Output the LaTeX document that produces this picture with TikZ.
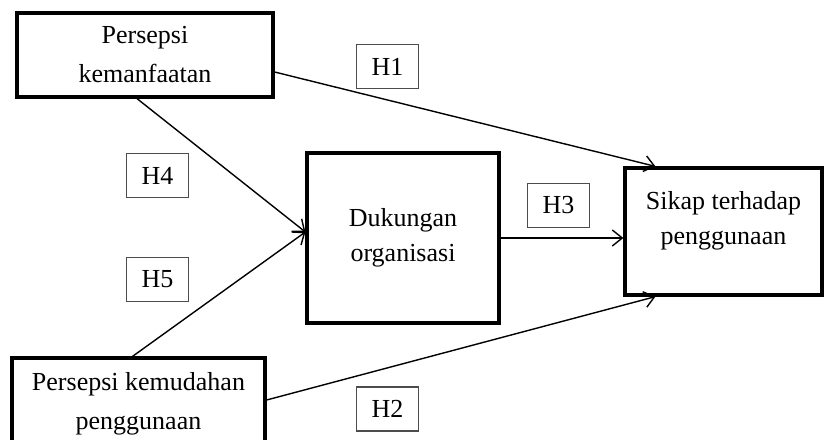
\documentclass[tikz,border=0pt]{standalone}
\usepackage{fontspec}
\setmainfont{Liberation Serif}
\usetikzlibrary{arrows.meta}

\begin{document}
\begin{tikzpicture}[x=0.5pt,y=-0.5pt,
    every node/.style={font=\fontsize{13}{19.5}\selectfont},
    varbox/.style={draw=black,line width=1.6pt,align=center,inner sep=0pt},
    hipbox/.style={draw=black!70,line width=0.8pt,minimum width=31pt,minimum height=22pt,inner sep=0pt},
    link/.style={line width=0.7pt,-{Straight Barb[length=5pt,width=8pt]}}]
    \useasboundingbox (0,0) rectangle (829,439);
    % variabel
    \node[varbox,minimum width=128pt,minimum height=42pt] (kemanfaatan) at (145,55) {Persepsi\\kemanfaatan};
    \node[varbox,minimum width=126.5pt,minimum height=46pt] (kemudahan) at (138.5,404) {Persepsi kemudahan\\penggunaan};
    \node[varbox,minimum width=96pt,minimum height=85pt] (dukungan) at (403,238) {Dukungan\\[-2pt]organisasi};
    \node[varbox,minimum width=98.5pt,minimum height=63.5pt] (sikap) at (723.5,231.5) {Sikap terhadap\\[-2pt]penggunaan\\[-12pt]\strut};
    % hipotesis
    \node[hipbox] (h1) at (387.5,66.5) {H1};
    \node[hipbox] (h2) at (387.5,409) {H2};
    \node[hipbox] (h3) at (558.5,205.5) {H3};
    \node[hipbox] (h4) at (157.5,175.5) {H4};
    \node[hipbox] (h5) at (157.5,279.5) {H5};
    % panah
    \draw[link] ([yshift=-8.5pt]kemanfaatan.east) -- ([xshift=-34pt]sikap.north);
    \draw[link] ([xshift=-4pt]kemanfaatan.south) -- ([yshift=3pt]dukungan.west);
    \draw[link] ([xshift=-3pt]kemudahan.north) -- ([yshift=3pt]dukungan.west);
    \draw[link] (dukungan.east) -- (dukungan.east -| sikap.west);
    \draw[link] ([yshift=2pt]kemudahan.east) -- ([xshift=-34pt]sikap.south);
\end{tikzpicture}
\end{document}
